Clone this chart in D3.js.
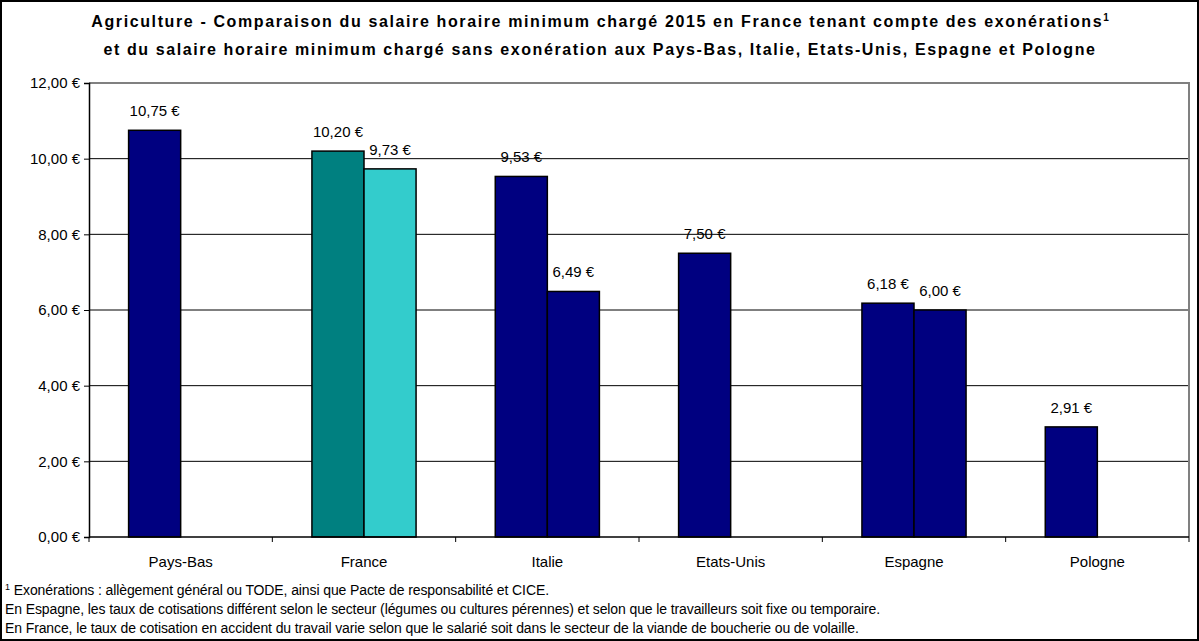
<!DOCTYPE html>
<html>
<head>
<meta charset="utf-8">
<script src="https://cdn.jsdelivr.net/npm/d3@7"></script>
<style>
  html,body{margin:0;padding:0;background:#fff;}
  svg{display:block;font-family:"Liberation Sans",Arial,sans-serif;}
</style>
</head>
<body>
<svg id="chart" width="1199" height="641"></svg>
<script>
/* ---------- DATA ---------- */
const CATEGORIES=["Pays-Bas","France","Italie","Etats-Unis","Espagne","Pologne"];
const SERIES_A=[10.75,10.20,9.53,7.50,6.18,2.91];
const SERIES_B=[null,9.73,6.49,null,6.00,null];
const Y_TICKS=[0,2,4,6,8,10,12];
const TITLE_1="Agriculture - Comparaison du salaire horaire minimum chargé 2015 en France tenant compte des exonérations";
const TITLE_2="et du salaire horaire minimum chargé sans exonération aux Pays-Bas, Italie, Etats-Unis, Espagne et Pologne";
const NOTES=[
  "Exonérations : allègement général ou TODE, ainsi que Pacte de responsabilité et CICE.",
  "En Espagne, les taux de cotisations différent selon le secteur (légumes ou cultures pérennes) et selon que le travailleurs soit fixe ou temporaire.",
  "En France, le taux de cotisation en accident du travail varie selon que le salarié soit dans le secteur de la viande de boucherie ou de volaille."
];

/* ---------- CONFIG ---------- */
const W=1199, H=641;
const PLOT={left:89,right:1189,top:83,bottom:537};
const NAVY="#000080", TEAL="#008080", CYAN="#33CCCC";
const LABEL_PX="15px", NOTE_PX="14px", TITLE_PX="16px";

const fmt=v=>d3.format(".2f")(v).replace(".",",")+" €";

const svg=d3.select("#chart");

/* stretch a text element to a target width with letter spacing, returns spacing */
function fitWidth(sel,target){
  const n=sel.text().length;
  const w=sel.node().getComputedTextLength();
  const ls=(target-w)/n;
  sel.style("letter-spacing",ls+"px");
  return ls;
}

/* outer frame */
svg.append("rect").attr("x",1).attr("y",1).attr("width",W-2).attr("height",H-2)
   .attr("fill","#fff").attr("stroke","#000").attr("stroke-width",2);

/* title */
const title=svg.append("text").attr("x",600).attr("y",27).attr("text-anchor","middle")
   .style("font-size",TITLE_PX).style("font-weight","bold");
const t1=title.append("tspan").text(TITLE_1);
fitWidth(t1,1012);
title.append("tspan").text("1").attr("dy",-6).style("font-size","10px").style("letter-spacing","0px");
const t2=svg.append("text").attr("x",600).attr("y",55).attr("text-anchor","middle")
   .style("font-size",TITLE_PX).style("font-weight","bold").text(TITLE_2);
fitWidth(t2,993);

/* scales */
const x=d3.scaleBand().domain(CATEGORIES).range([PLOT.left,PLOT.right]);
const y=d3.scaleLinear().domain([0,12]).range([PLOT.bottom,PLOT.top]);
const barW=x.bandwidth()*0.284;

/* gridlines */
svg.append("g").selectAll("line").data(Y_TICKS.filter(t=>t>0&&t<12)).enter()
   .append("line").attr("x1",PLOT.left).attr("x2",PLOT.right)
   .attr("y1",d=>y(d)).attr("y2",d=>y(d)).attr("stroke","#000").attr("stroke-width",1);

/* plot border top/right in gray */
svg.append("path")
   .attr("d",`M${PLOT.left},${PLOT.top}H${PLOT.right}V${PLOT.bottom}`)
   .attr("fill","none").attr("stroke","#808080").attr("stroke-width",2);

/* bars */
const bars=[];
CATEGORIES.forEach((c,i)=>{
  bars.push({cat:c,val:SERIES_A[i],k:0});
  if(SERIES_B[i]!=null) bars.push({cat:c,val:SERIES_B[i],k:1});
});
const barX=d=>x(d.cat)+x.bandwidth()/2-barW+d.k*barW;
const barColor=d=>d.cat==="France"?(d.k===0?TEAL:CYAN):NAVY;

svg.append("g").selectAll("rect").data(bars).enter().append("rect")
   .attr("x",barX).attr("y",d=>y(d.val))
   .attr("width",barW).attr("height",d=>y(0)-y(d.val))
   .attr("fill",barColor).attr("stroke","#000").attr("stroke-width",1.5);

/* data labels */
svg.append("g").selectAll("text").data(bars).enter().append("text")
   .attr("x",d=>barX(d)+barW/2).attr("y",d=>y(d.val)-14)
   .attr("text-anchor","middle").style("font-size",LABEL_PX).attr("fill","#000")
   .text(d=>fmt(d.val));

/* y axis */
const yAx=svg.append("g").attr("transform",`translate(${PLOT.left},0)`)
   .call(d3.axisLeft(y).tickValues(Y_TICKS).tickSize(5).tickPadding(4).tickFormat(fmt));
yAx.select(".domain").attr("stroke","#000").attr("stroke-width",1.5);
yAx.selectAll(".tick line").attr("stroke","#000");
yAx.selectAll("text").style("font-size",LABEL_PX)
   .style("font-family","'Liberation Sans',Arial,sans-serif").attr("fill","#000");

/* x axis: ticks at category boundaries */
svg.append("line").attr("x1",PLOT.left).attr("x2",PLOT.right)
   .attr("y1",PLOT.bottom).attr("y2",PLOT.bottom).attr("stroke","#000").attr("stroke-width",1.5);
svg.append("g").selectAll("line").data(CATEGORIES).enter().append("line")
   .attr("x1",d=>x(d)+x.bandwidth()).attr("x2",d=>x(d)+x.bandwidth())
   .attr("y1",PLOT.bottom).attr("y2",PLOT.bottom+5).attr("stroke","#000");
svg.append("line").attr("x1",PLOT.left).attr("x2",PLOT.left)
   .attr("y1",PLOT.bottom).attr("y2",PLOT.bottom+5).attr("stroke","#000");
svg.append("g").selectAll("text").data(CATEGORIES).enter().append("text")
   .attr("x",d=>x(d)+x.bandwidth()/2).attr("y",567)
   .attr("text-anchor","middle").style("font-size",LABEL_PX).text(d=>d);

/* footnotes */
const n1=svg.append("text").attr("x",5).attr("y",595).style("font-size",NOTE_PX);
n1.append("tspan").text("1").attr("dy",-5).style("font-size","9px");
const n1b=n1.append("tspan").text(" "+NOTES[0]).attr("dy",5);
const notes=NOTES.slice(1).map((t,i)=>
  svg.append("text").attr("x",5).attr("y",614+i*18.5).style("font-size",NOTE_PX).text(t));
const ls=fitWidth(notes[0],875);
notes[1].style("letter-spacing",ls+"px");
n1b.style("letter-spacing",ls+"px");
</script>
</body>
</html>
